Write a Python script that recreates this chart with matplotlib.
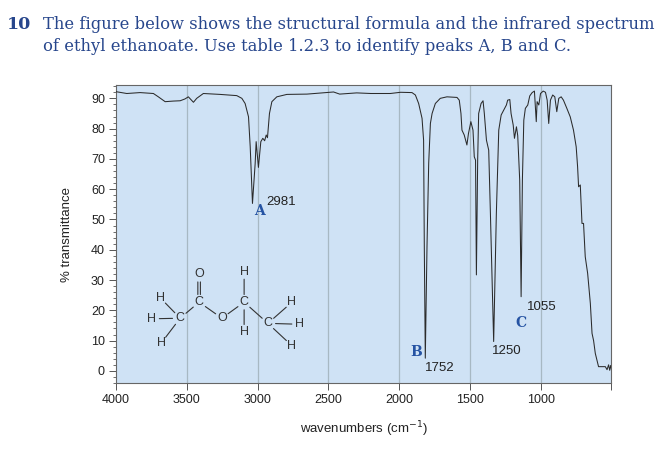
import matplotlib
matplotlib.use("Agg")
import matplotlib.pyplot as plt
from matplotlib.ticker import MultipleLocator

# IR spectrum of ethyl ethanoate
wavenumber = [4000, 3924, 3830, 3736, 3701, 3653, 3595, 3547, 3513, 3489, 3453, 3430,
              3383, 3265, 3147, 3111, 3088, 3064, 3052, 3036, 3017, 3010, 2994, 2977,
              2963, 2950, 2939, 2930, 2916, 2899, 2864, 2793, 2651, 2510, 2463, 2420,
              2300, 2200, 2062, 1990, 1909, 1885, 1862, 1838, 1827, 1822, 1815, 1803,
              1791, 1779, 1767, 1744, 1709, 1662, 1591, 1575, 1563, 1556, 1540, 1521,
              1510, 1493, 1478, 1469, 1460, 1454, 1445, 1438, 1421, 1407, 1398, 1383,
              1367, 1355, 1332, 1313, 1296, 1279, 1261, 1242, 1233, 1218, 1209, 1194,
              1185, 1171, 1162, 1148, 1138, 1129, 1119, 1108, 1091, 1077, 1060, 1044,
              1031, 1025, 1013, 1001, 982, 966, 954, 943, 931, 915, 900, 886, 872, 855,
              839, 815, 791, 768, 749, 739, 732, 720, 708, 697, 685, 668, 649, 637, 626,
              614, 591, 560, 543, 531, 520, 512, 505, 500]
transmittance = [92.2, 91.6, 91.9, 91.6, 90.5, 88.9, 89.1, 89.2, 89.8, 90.5, 88.7, 90.0,
                 91.6, 91.3, 90.9, 90.0, 88.3, 83.9, 74.0, 55.3, 68.5, 75.7, 67.2, 75.7,
                 76.8, 76.0, 77.9, 77.0, 85.0, 88.9, 90.5, 91.3, 91.4, 91.9, 92.1, 91.4,
                 91.8, 91.6, 91.6, 92.0, 91.9, 91.1, 88.3, 83.4, 76.2, 41.0, 4.2, 41.0,
                 68.5, 81.7, 85.0, 88.3, 90.0, 90.5, 90.3, 89.4, 85.0, 79.5, 77.9, 74.6,
                 78.4, 82.3, 79.5, 70.7, 69.6, 31.7, 69.6, 85.0, 88.3, 89.2, 85.0, 76.2,
                 72.9, 52.0, 9.7, 52.0, 79.5, 84.5, 86.1, 87.8, 89.4, 89.6, 85.0, 81.2,
                 76.8, 80.6, 77.7, 63.0, 24.5, 63.0, 82.8, 86.7, 87.8, 90.8, 91.9, 92.4,
                 82.3, 88.9, 87.8, 91.6, 92.4, 92.0, 89.4, 81.7, 89.4, 91.1, 90.5, 85.6,
                 90.0, 90.5, 89.4, 86.7, 83.9, 79.5, 74.0, 67.4, 60.8, 61.4, 48.7, 48.7,
                 37.7, 32.2, 22.3, 12.4, 10.0, 5.8, 1.4, 1.4, 1.4, 0.4, 2.0, 0.2, 1.8, 0.8]

x_ticks = [4000, 3500, 3000, 2500, 2000, 1500, 1000]
grid_lines = [3500, 3000, 2500, 2000, 1500, 1000]

# peak letters and wavenumber labels
peak_letters = [("A", 2983, 52.9), ("B", 1878, 6.4), ("C", 1136, 15.7)]
peak_numbers = [("2981", 2940, 55.8), ("1752", 1713, 0.9), ("1250", 1237, 6.6),
                ("1055", 994, 21.2)]

# structural formula of ethyl ethanoate, atoms placed in data units
atoms = {
    "H1": ("H", 3689, 24.2), "H2": ("H", 3748, 17.2), "C1": ("C", 3547, 17.4),
    "H3": ("H", 3682, 9.1), "C2": ("C", 3413, 22.7), "O1": ("O", 3413, 31.9),
    "O2": ("O", 3252, 17.4), "C3": ("C", 3095, 22.7), "H4": ("H", 3095, 32.8),
    "H5": ("H", 3095, 12.8), "C4": ("C", 2927, 15.7), "H6": ("H", 2757, 22.7),
    "H7": ("H", 2704, 15.4), "H8": ("H", 2757, 8.3),
}
bonds = [("H1", "C1"), ("H2", "C1"), ("H3", "C1"), ("C1", "C2"), ("C2", "O2"),
         ("O2", "C3"), ("C3", "H4"), ("C3", "H5"), ("C3", "C4"), ("C4", "H6"),
         ("C4", "H7"), ("C4", "H8")]
double_bonds = [("C2", "O1")]

navy = "#27468c"
label_blue = "#2553a3"
ink = "#333333"

fig = plt.figure(figsize=(6.6, 4.54), dpi=100)
ax = fig.add_axes([0.1758, 0.1557, 0.7506, 0.6577])
ax.set_facecolor("#cfe2f5")

for g in grid_lines:
    ax.axvline(g, color="#a7b8c3", lw=0.9, zorder=0)

ax.plot(wavenumber, transmittance, color="#2b2b2b", lw=0.75, zorder=3)

ax.set_xlim(4000, 500)
ax.set_ylim(-4.1, 94.5)
ax.set_xticks(x_ticks + [500])
ax.set_xticklabels([str(t) for t in x_ticks] + [""])
ax.yaxis.set_minor_locator(MultipleLocator(2))
ax.set_yticks(range(0, 91, 10))
ax.tick_params(axis="both", which="major", direction="out", length=5, width=0.7,
               color="#555555", labelsize=9, labelcolor="#222222", pad=3)
ax.tick_params(axis="y", which="minor", direction="out", length=2.5, width=0.6,
               color="#555555")
for s in ax.spines.values():
    s.set_color("#666666")
    s.set_linewidth(0.8)
for lab in ax.get_xticklabels() + ax.get_yticklabels():
    lab.set_family("Liberation Sans")

ax.set_ylabel("% transmittance", family="Liberation Sans", fontsize=9.5,
              color="#222222", labelpad=13)
ax.set_xlabel("wavenumbers (cm$^{-1}$)", family="Liberation Sans", fontsize=9.5,
              color="#222222", labelpad=9)

for letter, w, t in peak_letters:
    ax.text(w, t, letter, family="DejaVu Serif", fontweight="bold", fontsize=10,
            color=label_blue, ha="center", va="center", zorder=4)
for num, w, t in peak_numbers:
    ax.text(w, t, num, family="Liberation Sans", fontsize=9.5, color="#222222",
            ha="left" if num == "2981" else "center", va="center", zorder=4)

# structural formula
for key, (sym, w, t) in atoms.items():
    ax.text(w, t, sym, family="Liberation Sans", fontsize=9, color=ink,
            ha="center", va="center", zorder=4)
for a, b in bonds:
    ax.annotate("", xy=atoms[b][1:], xytext=atoms[a][1:],
                arrowprops=dict(arrowstyle="-", color=ink, lw=0.8,
                                shrinkA=5.5, shrinkB=5.5), zorder=4)
for a, b in double_bonds:
    for dx in (-9, 9):
        ax.annotate("", xy=(atoms[b][1] + dx, atoms[b][2]),
                    xytext=(atoms[a][1] + dx, atoms[a][2]),
                    arrowprops=dict(arrowstyle="-", color=ink, lw=0.8,
                                    shrinkA=5.5, shrinkB=5.5), zorder=4)

# question text
fig.text(7 / 660, 1 - 29 / 454, "10", family="DejaVu Serif", fontweight="bold",
         fontsize=12.5, color=navy, ha="left", va="baseline")
fig.text(43 / 660, 1 - 29 / 454,
         "The figure below shows the structural formula and the infrared spectrum",
         family="DejaVu Serif", fontsize=11.8, color=navy, ha="left", va="baseline")
fig.text(43 / 660, 1 - 51 / 454,
         "of ethyl ethanoate. Use table 1.2.3 to identify peaks A, B and C.",
         family="DejaVu Serif", fontsize=11.8, color=navy, ha="left", va="baseline")

fig.savefig("out.png", dpi=100)
